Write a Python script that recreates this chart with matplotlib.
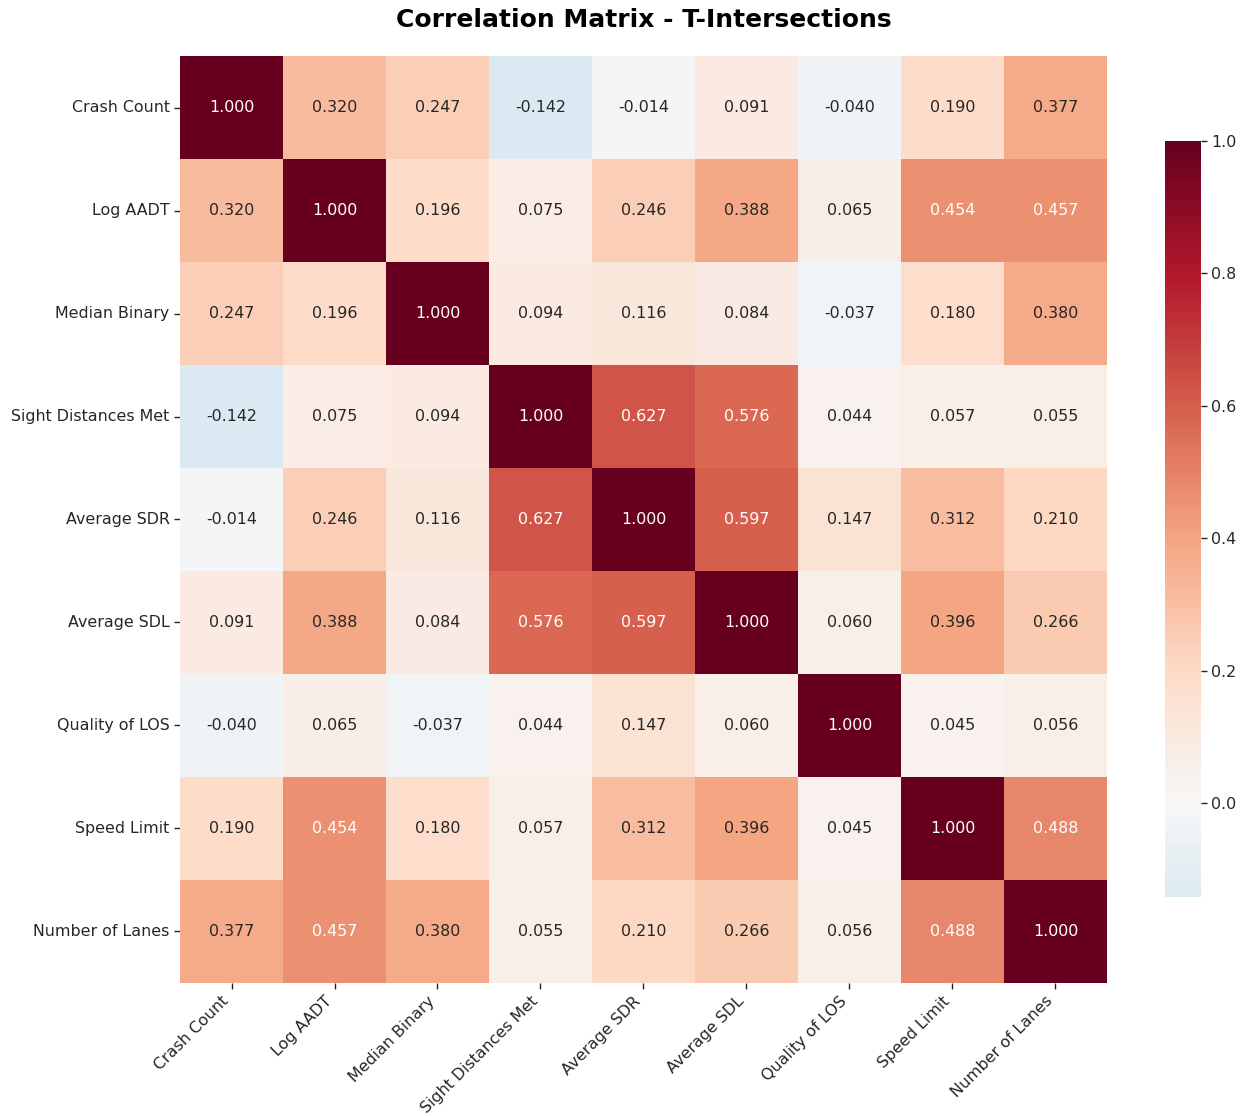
import matplotlib
matplotlib.use("Agg")
import matplotlib.pyplot as plt
import numpy as np
import seaborn as sns

labels = ["Crash Count", "Log AADT", "Median Binary", "Sight Distances Met",
          "Average SDR", "Average SDL", "Quality of LOS", "Speed Limit",
          "Number of Lanes"]

row_crash = [1.000, 0.320, 0.247, -0.142, -0.014, 0.091, -0.040, 0.190, 0.377]
row_aadt = [0.320, 1.000, 0.196, 0.075, 0.246, 0.388, 0.065, 0.454, 0.457]
row_median = [0.247, 0.196, 1.000, 0.094, 0.116, 0.084, -0.037, 0.180, 0.380]
row_sdm = [-0.142, 0.075, 0.094, 1.000, 0.627, 0.576, 0.044, 0.057, 0.055]
row_sdr = [-0.014, 0.246, 0.116, 0.627, 1.000, 0.597, 0.147, 0.312, 0.210]
row_sdl = [0.091, 0.388, 0.084, 0.576, 0.597, 1.000, 0.060, 0.396, 0.266]
row_los = [-0.040, 0.065, -0.037, 0.044, 0.147, 0.060, 1.000, 0.045, 0.056]
row_speed = [0.190, 0.454, 0.180, 0.057, 0.312, 0.396, 0.045, 1.000, 0.488]
row_lanes = [0.377, 0.457, 0.380, 0.055, 0.210, 0.266, 0.056, 0.488, 1.000]

corr = np.array([row_crash, row_aadt, row_median, row_sdm, row_sdr,
                 row_sdl, row_los, row_speed, row_lanes])

sns.set_style("white")
plt.rcParams["font.family"] = ["DejaVu Sans"]

fig = plt.figure(figsize=(12.49, 11.16), dpi=100)
ax = fig.add_axes([0.1441, 0.1192, 0.7422, 0.8306])
cax = fig.add_axes([0.9327, 0.1962, 0.0288, 0.6774])

fs = 11.4
sns.heatmap(corr, ax=ax, cbar_ax=cax, annot=True, fmt=".3f", cmap="RdBu_r",
            center=0, square=True, xticklabels=labels, yticklabels=labels,
            annot_kws={"size": fs})

ax.set_xticklabels(labels, rotation=45, ha="right", fontsize=fs)
ax.set_yticklabels(labels, rotation=0, fontsize=fs)
ax.tick_params(axis="both", length=4, width=1, color="#262626", bottom=True, left=True)
ax.set_title("Correlation Matrix - T-Intersections", fontsize=18,
             fontweight="bold", pad=21, color="black")
cax.set_yticks([0.0, 0.2, 0.4, 0.6, 0.8, 1.0])
cax.tick_params(labelsize=fs, length=4, width=1, right=True, color="#262626")

fig.savefig("out.png", dpi=100)
